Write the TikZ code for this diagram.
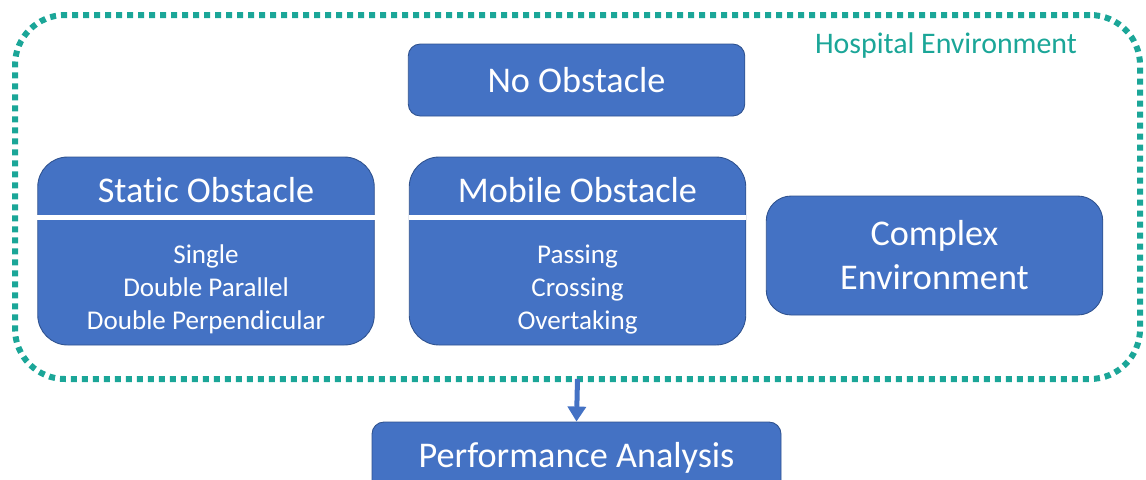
\documentclass[tikz,border=0pt]{standalone}
\usepackage{fontspec}
\setmainfont{Carlito}[Ligatures={NoCommon}, RawFeature={-calt}]
\usepackage{tikz}
\usetikzlibrary{shapes,arrows,arrows.meta}

\definecolor{boxBlue}{RGB}{68,114,196}
\definecolor{boxEdge}{RGB}{47,82,143}
\definecolor{envTeal}{RGB}{27,166,152}

\begin{document}
\begin{tikzpicture}
		\useasboundingbox (0,0) rectangle (22.92,-9.58);
		\begin{scope}
			[
				styleBox/.style={
					minimum width = 6.73cm, draw=boxEdge, fill=boxBlue,
					line width=0.5pt, rounded corners=#1
					},
				styleText/.style={text=white, align=center,
					font=\fontsize{20.6}{25}\selectfont},
				styleItem/.style={text=white, align=center,
					font=\fontsize{15.4}{18.9}\selectfont},
				styleEnv/.style={ minimum width = 22.5cm, minimum height = 7.28cm,
					draw=envTeal, line width=0.12cm, rounded corners=1cm,
					dash pattern=on 0.12cm off 0.1cm, outer sep=0pt},
			]
			\node(env)[styleEnv] at (11.55,-3.94) {};
			\node(envLabel)[text=envTeal, font=\fontsize{17}{20}\selectfont] at (18.92,-0.92) {Hospital Environment};

			\node(none)[styleBox=0.24cm, minimum height=1.44cm, styleText] at (11.53,-1.60) {No Obstacle};

			\node(static)[styleBox=0.6cm, minimum height=3.76cm] at (4.12,-5.02) {};
			\node(staticTitle)[styleText] at (4.12,-3.80) {Static Obstacle};
			\node(staticItems)[styleItem] at (4.12,-5.79) {Single\\Double Parallel\\Double Perpendicular};
			\coordinate(staticDiv) at (4.12,-4.34);

			\node(mobile)[styleBox=0.6cm, minimum height=3.76cm] at (11.55,-5.02) {};
			\node(mobileTitle)[styleText] at (11.55,-3.80) {Mobile Obstacle};
			\node(mobileItems)[styleItem] at (11.55,-5.79) {Passing\\Crossing\\Overtaking};
			\coordinate(mobileDiv) at (11.55,-4.34);

			\node(complex)[styleBox=0.5cm, minimum height=2.38cm, styleText] at (18.69,-5.11) {Complex\\Environment};

			\node(perf)[styleBox=0.24cm, minimum width=8.18cm, minimum height=1.44cm, styleText] at (11.53,-9.16) {Performance Analysis};
		\end{scope}

		\begin{scope}
			[ divider/.style = {white, line width=0.1cm},
				flow/.style = {boxBlue, line width=0.1cm,
					-{Triangle[width=0.36cm,length=0.3cm]}}]
			\draw[divider] (staticDiv -| static.west) -- (staticDiv -| static.east);
			\draw[divider] (mobileDiv -| mobile.west) -- (mobileDiv -| mobile.east);
			\draw[flow] (env.south) -- (perf.north);
		\end{scope}
	\end{tikzpicture}
\end{document}
